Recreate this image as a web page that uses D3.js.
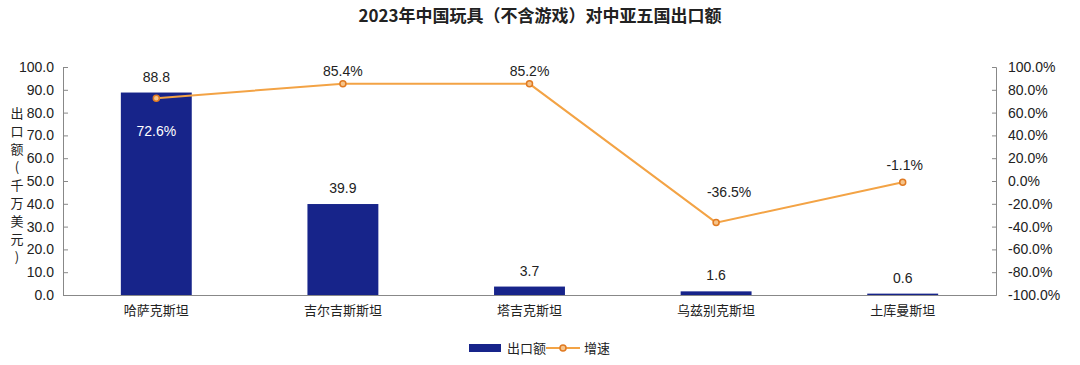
<!DOCTYPE html>
<html>
<head>
<meta charset="utf-8">
<script src="https://cdn.jsdelivr.net/npm/d3@7"></script>
<style>
    body { margin: 0; background: #fff; }
    text { font-family: "Noto Sans CJK SC", "Liberation Sans", sans-serif; }
</style>
</head>
<body>
<svg width="1080" height="365"></svg>
<script>
const countries = ["哈萨克斯坦", "吉尔吉斯斯坦", "塔吉克斯坦", "乌兹别克斯坦", "土库曼斯坦"];
const exportValues = [88.8, 39.9, 3.7, 1.6, 0.6];
const growth = [72.6, 85.4, 85.2, -36.5, -1.1];
const leftTicks = [0, 10, 20, 30, 40, 50, 60, 70, 80, 90, 100];
const rightTicks = [-100, -80, -60, -40, -20, 0, 20, 40, 60, 80, 100];

const svg = d3.select("svg");
const plotL = 63, plotR = 996, plotT = 67, plotB = 295;
const numFont = "'Liberation Sans', Arial, sans-serif";
const cjkFont = "'Noto Sans CJK SC', sans-serif";
const fmt = v => v.toFixed(1);

const x = d3.scaleBand(countries, [plotL, plotR]).paddingInner(0.62).paddingOuter(0.31);
const y = d3.scaleLinear([0, 100], [plotB, plotT]);
const y2 = d3.scaleLinear([-100, 100], [plotB, plotT]);

// title
svg.append("text")
    .attr("x", 540).attr("y", 22)
    .attr("text-anchor", "middle")
    .attr("font-size", 17).attr("font-weight", "bold")
    .attr("fill", "#222")
    .text("2023年中国玩具（不含游戏）对中亚五国出口额");

// bars
svg.append("g")
    .selectAll("rect")
    .data(exportValues)
    .enter()
    .append("rect")
    .attr("x", (d, i) => x(countries[i]))
    .attr("width", x.bandwidth())
    .attr("y", d => y(d))
    .attr("height", d => plotB - y(d))
    .attr("fill", "#17248a");

// axes
const la = svg.append("g")
    .attr("transform", `translate(${plotL},0)`)
    .call(d3.axisRight(y).tickValues(leftTicks).tickSize(5).tickFormat(fmt));
la.selectAll("text").attr("x", -9).attr("text-anchor", "end");

const ra = svg.append("g")
    .attr("transform", `translate(${plotR},0)`)
    .call(d3.axisLeft(y2).tickValues(rightTicks).tickSize(4).tickFormat(d => fmt(d) + "%"));
ra.selectAll("text").attr("x", 12).attr("text-anchor", "start");

const ba = svg.append("g")
    .attr("transform", `translate(0,${plotB})`)
    .call(d3.axisBottom(x).tickSize(0).tickPadding(11));

svg.selectAll(".domain").attr("stroke", "#888");
svg.selectAll(".tick line").attr("stroke", "#888");
svg.selectAll(".tick text").attr("fill", "#222");
la.selectAll("text").attr("font-size", 14).style("font-family", numFont);
ra.selectAll("text").attr("font-size", 14).style("font-family", numFont);
ba.selectAll("text").attr("font-size", 13).style("font-family", cjkFont);

// y axis title (vertical)
const ytitle = "出口额（千万美元）".split("");
svg.append("g")
    .selectAll("text")
    .data(ytitle)
    .enter()
    .append("text")
    .attr("x", 17)
    .attr("y", (d, i) => 118 + i * 18)
    .attr("text-anchor", "middle")
    .attr("font-size", 13)
    .attr("fill", "#222")
    .text(d => d === "（" ? "(" : d === "）" ? ")" : d);

// bar value labels
svg.append("g")
    .selectAll("text")
    .data(exportValues)
    .enter()
    .append("text")
    .attr("x", (d, i) => x(countries[i]) + x.bandwidth() / 2)
    .attr("y", d => y(d) - 11)
    .attr("text-anchor", "middle")
    .attr("font-size", 14)
    .style("font-family", numFont)
    .attr("fill", "#222")
    .text(d => fmt(d));

// growth line
const cx = i => x(countries[i]) + x.bandwidth() / 2;
svg.append("path")
    .datum(growth)
    .attr("fill", "none")
    .attr("stroke", "#f3a345")
    .attr("stroke-width", 2)
    .attr("d", d3.line().x((d, i) => cx(i)).y(d => y2(d)));

svg.append("g")
    .selectAll("circle")
    .data(growth)
    .enter()
    .append("circle")
    .attr("cx", (d, i) => cx(i))
    .attr("cy", d => y2(d))
    .attr("r", 3)
    .attr("fill", "#f6c48a")
    .attr("stroke", "#e07a22")
    .attr("stroke-width", 1.5);

// label offsets: first one sits inside the bar, the dip is nudged off the line
const labelDy = [38, -8, -8, -26, -12];
const labelDx = [0, 0, 0, 13, 2];
svg.append("g")
    .selectAll("text")
    .data(growth)
    .enter()
    .append("text")
    .attr("x", (d, i) => cx(i) + labelDx[i])
    .attr("y", (d, i) => y2(d) + labelDy[i])
    .attr("text-anchor", "middle")
    .attr("font-size", 14)
    .style("font-family", numFont)
    .attr("fill", (d, i) => i === 0 ? "#fff" : "#222")
    .text(d => fmt(d) + "%");

// legend
const lg = svg.append("g");
lg.append("rect").attr("x", 469).attr("y", 344).attr("width", 32).attr("height", 8).attr("fill", "#17248a");
lg.append("text").attr("x", 507).attr("y", 353).attr("font-size", 13).attr("fill", "#222").text("出口额");
lg.append("line").attr("x1", 546).attr("x2", 580).attr("y1", 348).attr("y2", 348)
    .attr("stroke", "#f3a345").attr("stroke-width", 2);
lg.append("circle").attr("cx", 563).attr("cy", 348).attr("r", 3)
    .attr("fill", "#f6c48a").attr("stroke", "#e07a22").attr("stroke-width", 1.5);
lg.append("text").attr("x", 584).attr("y", 353).attr("font-size", 13).attr("fill", "#222").text("增速");
</script>
</body>
</html>
